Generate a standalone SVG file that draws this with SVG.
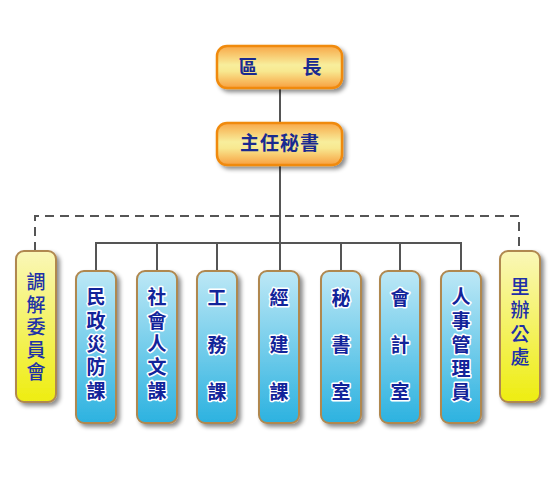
<svg xmlns="http://www.w3.org/2000/svg" width="560" height="480" viewBox="0 0 560 480">
<defs>
<linearGradient id="gOrange" x1="0" y1="0" x2="0" y2="1">
<stop offset="0" stop-color="#f8a848"/>
<stop offset="0.45" stop-color="#f8ee9c"/>
<stop offset="0.6" stop-color="#f8e890"/>
<stop offset="1" stop-color="#f8a040"/>
</linearGradient>
<linearGradient id="gBlue" x1="0" y1="0" x2="0" y2="1">
<stop offset="0" stop-color="#bde8f6"/>
<stop offset="1" stop-color="#2cb2e0"/>
</linearGradient>
<linearGradient id="gYellow" x1="0" y1="0" x2="0" y2="1">
<stop offset="0" stop-color="#faf7b8"/>
<stop offset="1" stop-color="#eeed10"/>
</linearGradient>
<filter id="sh" x="-30%" y="-30%" width="160%" height="160%">
<feDropShadow dx="3" dy="3" stdDeviation="2" flood-color="#000" flood-opacity="0.45"/>
</filter>
</defs>
<style>
.top{fill:url(#gOrange);stroke:#f08a10;stroke-width:2.5;filter:url(#sh)}
.blue{fill:url(#gBlue);stroke:#b08850;stroke-width:2;filter:url(#sh)}
.yel{fill:url(#gYellow);stroke:#b08850;stroke-width:2;filter:url(#sh)}
text{font-family:"Noto Sans CJK TC","Noto Sans CJK SC",sans-serif;font-weight:bold;font-size:19px;text-anchor:middle}
.v{writing-mode:vertical-rl}
.tt{fill:#1a2a90}
.bt{fill:#12249a;stroke:#ffffff;stroke-width:3;paint-order:stroke;stroke-linejoin:round}
.yt{fill:#2030a8;font-weight:500}
.ln{stroke:#555;stroke-width:2;fill:none}
.dl{stroke:#555;stroke-width:2;fill:none;stroke-dasharray:9,6}
</style>
<g id="connectors">
<line class="ln" x1="280" y1="88" x2="280" y2="123"/>
<line class="ln" x1="280" y1="165" x2="280" y2="271"/>
<polyline class="dl" points="35,251 35,216 519,216 519,251"/>
<line class="ln" x1="96" y1="243" x2="461" y2="243"/>
<line class="ln" x1="96" y1="242" x2="96" y2="271"/>
<line class="ln" x1="157" y1="242" x2="157" y2="271"/>
<line class="ln" x1="217" y1="242" x2="217" y2="271"/>
<line class="ln" x1="341" y1="242" x2="341" y2="271"/>
<line class="ln" x1="400" y1="242" x2="400" y2="271"/>
<line class="ln" x1="461" y1="242" x2="461" y2="271"/>
</g>
<g id="n-head">
<rect class="top" x="217" y="46" width="125" height="42" rx="10"/>
<text class="tt" y="74"><tspan x="248">區</tspan><tspan x="312">長</tspan></text>
</g>
<g id="n-secretary">
<rect class="top" x="217" y="123" width="125" height="42" rx="10"/>
<text class="tt" x="280" y="150" letter-spacing="1">主任秘書</text>
</g>
<g id="n-mediation">
<rect class="yel" x="16" y="251" width="40" height="151" rx="8"/>
<text class="yt v" x="36" y="329" letter-spacing="3.5">調解委員會</text>
</g>
<g id="n-civil">
<rect class="blue" x="76" y="271" width="40" height="152" rx="8"/>
<text class="bt v" x="96" y="346" letter-spacing="4.3">民政災防課</text>
</g>
<g id="n-social">
<rect class="blue" x="137" y="271" width="40" height="152" rx="8"/>
<text class="bt v" x="157" y="346" letter-spacing="4.3">社會人文課</text>
</g>
<g id="n-works">
<rect class="blue" x="197" y="271" width="40" height="152" rx="8"/>
<text class="bt v" x="217" y="359" letter-spacing="28">工務課</text>
</g>
<g id="n-economic">
<rect class="blue" x="259" y="271" width="40" height="152" rx="8"/>
<text class="bt v" x="279" y="359" letter-spacing="28">經建課</text>
</g>
<g id="n-secretariat">
<rect class="blue" x="321" y="271" width="40" height="152" rx="8"/>
<text class="bt v" x="341" y="359" letter-spacing="28">秘書室</text>
</g>
<g id="n-accounting">
<rect class="blue" x="380" y="271" width="40" height="152" rx="8"/>
<text class="bt v" x="400" y="359" letter-spacing="28">會計室</text>
</g>
<g id="n-personnel">
<rect class="blue" x="441" y="271" width="40" height="152" rx="8"/>
<text class="bt v" x="461" y="347" letter-spacing="4.7">人事管理員</text>
</g>
<g id="n-village">
<rect class="yel" x="500" y="251" width="40" height="151" rx="8"/>
<text class="yt v" x="520" y="324" letter-spacing="4.3">里辦公處</text>
</g>
</svg>
